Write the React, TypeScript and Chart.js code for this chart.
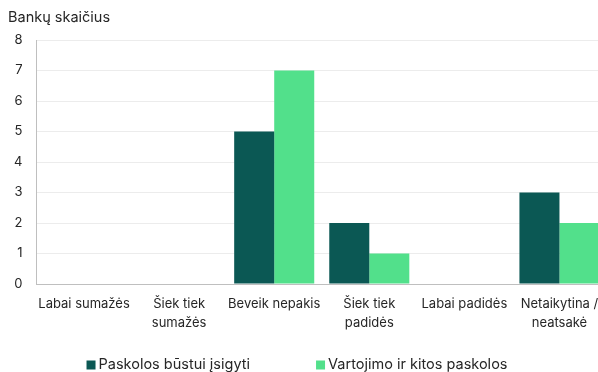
import React, { useEffect, useRef } from "react";
import { Chart, registerables } from "chart.js";

Chart.register(...registerables);

const categories: (string | string[])[] = [
  "Labai sumažės",
  ["Šiek tiek", "sumažės"],
  "Beveik nepakis",
  ["Šiek tiek", "padidės"],
  "Labai padidės",
  ["Netaikytina /", "neatsakė"],
];
const housingLoans = [0, 0, 5, 2, 0, 3];
const consumerLoans = [0, 0, 7, 1, 0, 2];
const seriesNames = ["Paskolos būstui įsigyti", "Vartojimo ir kitos paskolos"];
const axisTitle = "Bankų skaičius";

const FONT = "Inter, 'Noto Sans', sans-serif";
const TEXT = "#262626";
const DARK = "#0b5854";
const LIGHT = "#52e08b";

// Legend drawn in one row under the axis labels, boxes before each series name.
const bottomLegend = {
  id: "bottomLegend",
  afterDraw(chart: any) {
    const ctx = chart.ctx as CanvasRenderingContext2D;
    const box = 9;
    const textGap = 3;
    const itemGap = 66;
    const centerX = 297;
    const y = 365;
    ctx.save();
    ctx.font = `14.5px ${FONT}`;
    ctx.textBaseline = "middle";
    ctx.textAlign = "left";
    const items = chart.data.datasets.map((ds: any) => ({
      label: ds.label as string,
      color: ds.backgroundColor as string,
      w: box + textGap + ctx.measureText(ds.label).width,
    }));
    const total =
      items.reduce((s: number, it: any) => s + it.w, 0) + itemGap * (items.length - 1);
    let x = centerX - total / 2;
    for (const it of items) {
      ctx.fillStyle = it.color;
      ctx.fillRect(x, y - box / 2, box, box);
      ctx.fillStyle = TEXT;
      ctx.fillText(it.label, x + box + textGap, y);
      x += it.w + itemGap;
    }
    ctx.restore();
  },
};

export default function App() {
  const ref = useRef<HTMLCanvasElement>(null);

  useEffect(() => {
    document.body.style.margin = "0";
    document.body.style.overflow = "hidden";
    const chart = new Chart(ref.current!, {
      type: "bar",
      data: {
        labels: categories,
        datasets: [
          { label: seriesNames[0], data: housingLoans, backgroundColor: DARK },
          { label: seriesNames[1], data: consumerLoans, backgroundColor: LIGHT },
        ],
      },
      options: {
        responsive: false,
        animation: false,
        devicePixelRatio: 1,
        layout: { padding: { left: 8, right: 0, top: 0, bottom: 0 } },
        datasets: { bar: { categoryPercentage: 0.842, barPercentage: 1 } },
        scales: {
          x: {
            afterFit: (s: any) => {
              s.height = 88;
            },
            grid: { display: false },
            border: { color: "#bfbfbf", width: 1 },
            ticks: {
              color: TEXT,
              font: { family: FONT, size: 13, lineHeight: 1.46 },
              padding: 3,
              maxRotation: 0,
              autoSkip: false,
            },
          },
          y: {
            min: 0,
            max: 8,
            afterFit: (s: any) => {
              s.width = 28.5;
            },
            grid: { color: "#ececec", drawTicks: false },
            border: { color: "#bfbfbf", width: 1 },
            ticks: {
              stepSize: 1,
              color: TEXT,
              font: { family: FONT, size: 13 },
              padding: 14,
            },
          },
        },
        plugins: {
          title: {
            display: true,
            text: axisTitle,
            align: "start",
            color: TEXT,
            font: { family: FONT, size: 14.5, weight: "normal" },
            padding: { top: 9, bottom: 13.6 },
          },
          legend: { display: false },
          tooltip: { enabled: false },
        },
      },
      plugins: [bottomLegend],
    });
    return () => chart.destroy();
  }, []);

  return <canvas ref={ref} width={607} height={372} style={{ display: "block" }} />;
}
